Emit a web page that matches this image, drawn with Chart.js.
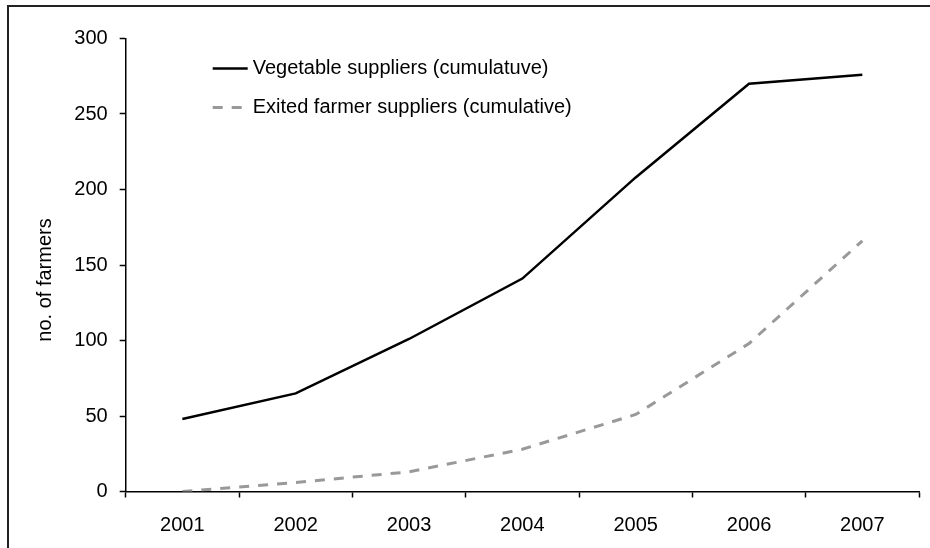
<!DOCTYPE html>
<html>
<head>
<meta charset="utf-8">
<title>Farmer suppliers</title>
<script src="https://cdn.jsdelivr.net/npm/chart.js@4.4.1/dist/chart.umd.min.js"></script>
<style>
    body { margin: 0; background: #fff; }
    .chart-wrap { position: relative; width: 930px; height: 548px; overflow: hidden; }
    .frame {
        position: absolute; left: 7px; top: 5px; width: 1000px; height: 1000px;
        border-left: 2px solid #222; border-top: 2px solid #222;
    }
    canvas { position: absolute; left: 0; top: 0; }
</style>
</head>
<body>
<div class="chart-wrap">
    <div class="frame"></div>
    <canvas id="farmersChart" width="930" height="548"></canvas>
</div>
<script>
// Values
const years = ['2001', '2002', '2003', '2004', '2005', '2006', '2007'];
const vegetableSuppliers = [48, 65, 101, 141, 208, 270, 276];
const exitedSuppliers = [0, 6, 13, 28, 51, 98, 166];
const yTickValues = [0, 50, 100, 150, 200, 250, 300];

const yTitle = 'no. of farmers';
const fontFamily = '"Liberation Sans", Arial, sans-serif';

// Legend inside the plot area and the rotated y title
const insideLabels = {
    id: 'insideLabels',
    afterDraw(chart) {
        const ctx = chart.ctx;
        const area = chart.chartArea;
        ctx.save();
        ctx.fillStyle = '#000';
        ctx.font = '20px ' + fontFamily;

        // y axis title
        ctx.save();
        ctx.translate(45, (area.top + area.bottom) / 2 + 15);
        ctx.rotate(-Math.PI / 2);
        ctx.textAlign = 'center';
        ctx.textBaseline = 'middle';
        ctx.fillText(yTitle, 0, 0);
        ctx.restore();

        // legend
        chart.data.datasets.forEach(function(ds, i) {
            const x = area.left + 87;
            const y = area.top + 30 + i * 39;
            ctx.save();
            ctx.beginPath();
            ctx.strokeStyle = ds.borderColor;
            ctx.lineWidth = ds.borderWidth;
            ctx.setLineDash(ds.borderDash || []);
            ctx.moveTo(x, y);
            ctx.lineTo(x + (ds.borderDash ? 30 : 35), y);
            ctx.stroke();
            ctx.restore();
            ctx.textAlign = 'left';
            ctx.textBaseline = 'middle';
            ctx.fillText(ds.label, x + 40, y);
        });
        ctx.restore();
    }
};

function initializeFarmersChart() {
    const ctx = document.getElementById('farmersChart').getContext('2d');
    new Chart(ctx, {
        type: 'line',
        data: {
            labels: years,
            datasets: [
                {
                    label: 'Vegetable suppliers (cumulatuve)',
                    data: vegetableSuppliers,
                    borderColor: '#000',
                    borderWidth: 2.5,
                    pointRadius: 0,
                    tension: 0
                },
                {
                    label: 'Exited farmer suppliers (cumulative)',
                    data: exitedSuppliers,
                    borderColor: '#999',
                    borderWidth: 3,
                    borderDash: [10, 9],
                    pointRadius: 0,
                    tension: 0
                }
            ]
        },
        options: {
            responsive: false,
            animation: false,
            devicePixelRatio: 1,
            layout: {
                padding: { top: 38.5, right: 11, left: 0, bottom: 0 }
            },
            plugins: {
                legend: { display: false },
                tooltip: { enabled: false }
            },
            scales: {
                x: {
                    offset: true,
                    grid: {
                        offset: true,
                        drawOnChartArea: false,
                        drawTicks: true,
                        tickLength: 6,
                        tickColor: '#000',
                        tickWidth: 1.5
                    },
                    border: { color: '#000', width: 1.5 },
                    ticks: {
                        color: '#000',
                        padding: 16,
                        maxRotation: 0,
                        font: { family: fontFamily, size: 20 }
                    },
                    afterFit: function(scale) {
                        scale.height = 56.5;
                    }
                },
                y: {
                    min: 0,
                    max: 300,
                    afterBuildTicks: function(scale) {
                        scale.ticks = yTickValues.map(v => ({ value: v }));
                    },
                    grid: {
                        drawOnChartArea: false,
                        drawTicks: true,
                        tickLength: 6,
                        tickColor: '#000',
                        tickWidth: 1.5
                    },
                    border: { color: '#000', width: 1.5 },
                    ticks: {
                        color: '#000',
                        padding: 12,
                        font: { family: fontFamily, size: 20 }
                    },
                    afterFit: function(scale) {
                        scale.width = 125.7;
                    }
                }
            }
        },
        plugins: [insideLabels]
    });
}

document.addEventListener('DOMContentLoaded', initializeFarmersChart);
</script>
</body>
</html>
